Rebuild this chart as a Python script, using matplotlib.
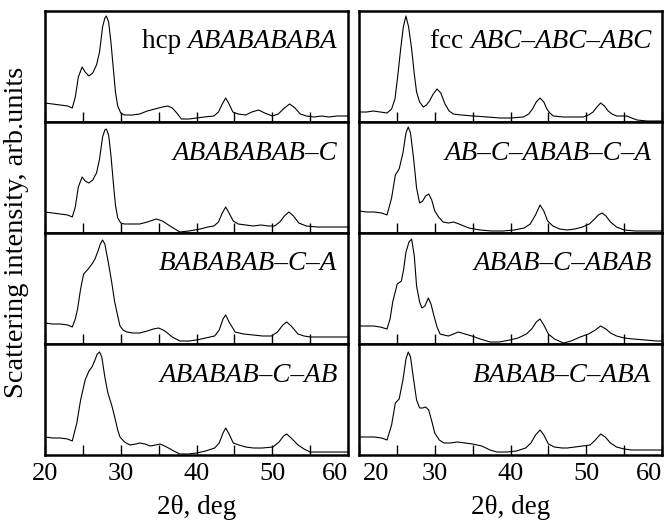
import matplotlib
matplotlib.use("Agg")
import matplotlib.pyplot as plt
from matplotlib.transforms import ScaledTranslation

plt.rcParams["font.family"] = ["Liberation Serif", "DejaVu Serif"]

# -----------------------------
# DATA (intensity, arb. units, 0..111 per panel)
# -----------------------------
hcp_x = [20, 21, 22, 23, 23.6, 24.0, 24.4, 24.9, 25.3, 25.8, 26.3, 26.8, 27.2, 27.6, 27.9, 28.1,
         28.4, 28.7, 29.0, 29.3, 29.6, 30.0, 30.5, 31.5, 32.5, 33.5, 34.5, 35.5, 36.2, 36.8, 37.4,
         38.0, 39.0, 40.0, 41.0, 42.3, 42.9, 43.4, 43.85, 44.3, 44.8, 45.5, 46.5, 47.3, 48.2, 49.0,
         50.0, 50.8, 51.6, 52.3, 53.0, 53.7, 54.5, 55.5, 56.5, 57.5, 58.5, 59.3, 60]
hcp_y = [19, 18, 17, 16, 14, 25, 45, 55, 50, 46, 49, 57, 70, 95, 104, 106,
         100, 80, 55, 30, 16, 9, 7, 7, 8, 11, 13, 15, 16, 14, 9,
         3, 3, 4, 5, 6, 10, 18, 24, 18, 10, 8, 7, 10, 12, 9,
         6, 8, 14, 18, 14, 8, 6, 5, 6, 5, 6, 6, 6]

l2_x = [20, 21, 22, 23, 23.6, 24.0, 24.4, 24.9, 25.3, 25.8, 26.3, 26.8, 27.2, 27.6, 27.9, 28.1,
        28.4, 28.7, 29.0, 29.3, 29.6, 30.0, 30.5, 31.5, 32.5, 33.5, 34.7, 35.5, 36.5, 37.8,
        39.0, 40.5, 41.5, 42.3, 42.9, 43.4, 43.85, 44.3, 44.85, 45.5, 46.5, 47.5, 48.5, 49.5,
        50.3, 51.0, 51.6, 52.2, 52.8, 53.5, 54.5, 55.9, 57.5, 59.0, 60]
l2_y = [21, 20, 19, 18, 16, 26, 46, 56, 52, 50, 53, 60, 74, 96, 103, 104,
        98, 78, 52, 28, 15, 10, 9, 9, 9, 11, 14, 12, 7, 1,
        2, 4, 6, 7, 11, 20, 26, 20, 12, 9, 8, 7, 8, 7,
        7, 11, 17, 21, 17, 10, 7, 6, 6, 6, 6]

l3_x = [20, 21, 22, 23, 23.6, 24.0, 24.3, 24.7, 25.1, 25.7, 26.2, 26.6, 27.0, 27.3, 27.6, 27.9,
        28.35, 28.8, 29.2, 29.6, 29.9, 30.3, 30.8, 31.6, 32.5, 33.5, 34.3, 35.0, 35.6, 36.0,
        36.8, 37.8, 39.0, 40.0, 41.2, 42.4, 43.0, 43.5, 43.85, 44.3, 45.1, 46.2, 47.5, 48.7,
        49.9, 50.7, 51.4, 51.9, 52.5, 53.4, 54.2, 55.0, 56.5, 58.0, 59.0, 60]
l3_y = [21, 20, 20, 19, 17, 25, 35, 55, 70, 75, 80, 85, 93, 100, 104, 100,
        82, 62, 42, 28, 18, 14, 12, 11, 11, 13, 15, 16, 14, 12,
        7, 3, 3, 4, 6, 8, 14, 25, 29, 22, 12, 10, 9, 8,
        8, 12, 19, 22, 18, 10, 8, 7, 7, 7, 7, 7]

l4_x = [20, 21, 22, 23, 23.6, 24.2, 24.7, 25.3, 25.8, 26.2, 26.6, 26.9, 27.2, 27.5, 27.9, 28.3,
        28.8, 29.2, 29.6, 29.9, 30.5, 31.2, 32.0, 32.5, 33.2, 33.9, 34.6, 35.2, 35.8, 36.3,
        37.0, 37.8, 39.0, 40.0, 41.2, 42.4, 43.0, 43.5, 43.85, 44.3, 44.85, 45.6, 46.5, 47.5,
        48.7, 50.1, 50.9, 51.5, 51.9, 52.5, 53.4, 54.2, 55.0, 56.5, 58.0, 59.0, 60]
l4_y = [18, 17, 17, 16, 14, 32, 55, 75, 84, 88, 95, 101, 103, 98, 78, 62,
        50, 38, 25, 18, 13, 10, 11, 12, 11, 9, 10, 11, 9, 7,
        4, 1, 1, 2, 4, 7, 12, 22, 27, 21, 12, 10, 8, 7,
        7, 8, 13, 19, 21, 17, 10, 6, 3, 3, 3, 3, 3]

fcc_x = [20, 21, 21.9, 22.8, 23.7, 24.3, 24.75, 25.1, 25.5, 25.85, 26.2, 26.55, 26.95, 27.3,
         27.6, 28.0, 28.5, 28.9, 29.3, 29.8, 30.3, 30.8, 31.35, 31.9, 32.45, 33.5, 35.1, 37.0,
         38.6, 40.0, 41.7, 42.4, 42.9, 43.4, 43.9, 44.4, 44.8, 45.2, 45.65, 47.0, 48.5, 49.6,
         50.3, 50.9, 51.4, 51.9, 52.4, 52.9, 53.4, 54.0, 55.35, 56.0, 56.7, 58.0, 59.8, 60]
fcc_y = [10, 10, 11, 10, 9, 13, 23, 45, 73, 95, 106, 95, 73, 48,
         30, 20, 15, 17, 21, 28, 33, 29, 18, 11, 8, 7, 6, 5,
         4, 4, 5, 8, 13, 20, 24, 20, 13, 9, 6, 5, 5, 5,
         7, 10, 15, 19, 16, 11, 8, 6, 6, 4, 2, 1, 1, 1]

r2_x = [20, 21, 22, 23, 23.7, 24.3, 24.8, 25.3, 25.8, 26.2, 26.5, 26.8, 27.2, 27.6, 28.0,
        28.4, 28.8, 29.2, 29.6, 30.0, 30.5, 31.1, 31.8, 32.5, 33.2, 34.5, 36.0, 37.5, 39.0,
        40.5, 41.8, 42.6, 43.3, 43.9, 44.4, 44.9, 45.6, 46.5, 47.5, 48.5, 49.5, 50.4, 51.1,
        51.6, 52.1, 52.6, 53.2, 54.0, 55.0, 56.5, 58.0, 60]
r2_y = [22, 21, 21, 20, 18, 35, 58, 64, 80, 100, 106, 100, 75, 45, 30,
        32, 37, 39, 33, 22, 16, 11, 10, 11, 9, 5, 3, 2, 2,
        3, 5, 9, 18, 28, 22, 12, 7, 4, 3, 4, 6, 9, 14,
        18, 20, 17, 11, 6, 3, 2, 2, 2]

r3_x = [20, 21, 21.9, 22.8, 23.7, 24.1, 24.45, 25.05, 25.6, 25.9, 26.2, 26.6, 26.95, 27.3,
        27.6, 28.0, 28.3, 28.7, 29.15, 29.5, 29.9, 30.3, 30.7, 31.2, 31.8, 32.5, 33.1, 34.0,
        34.9, 36.0, 37.3, 38.5, 39.9, 41.0, 42.1, 42.8, 43.4, 43.9, 44.4, 45.0, 45.8, 47.0,
        48.0, 49.2, 50.3, 51.2, 51.9, 52.6, 53.2, 54.0, 55.0, 56.2, 57.8, 59.3, 60]
r3_y = [18, 18, 18, 17, 15, 25, 42, 60, 63, 75, 92, 102, 105, 88,
        58, 42, 36, 38, 46, 40, 28, 17, 10, 9, 8, 10, 12, 10,
        8, 5, 2, 2, 4, 6, 10, 15, 22, 25, 19, 10, 5, 1,
        3, 7, 10, 14, 18, 15, 11, 8, 6, 5, 4, 3, 3]

r4_x = [20, 21, 22, 23, 23.7, 24.3, 24.8, 25.3, 25.8, 26.2, 26.5, 26.8, 27.2, 27.6, 28.0,
        28.4, 28.8, 29.2, 29.6, 30.0, 30.6, 31.2, 32.0, 33.0, 34.0, 35.0, 36.2, 37.3, 38.2,
        39.5, 40.8, 42.0, 42.7, 43.3, 43.9, 44.4, 45.0, 45.8, 46.8, 47.5, 48.5, 49.5, 50.5,
        51.2, 51.9, 52.5, 53.2, 54.0, 55.0, 56.0, 57.5, 59.0, 60]
r4_y = [18, 18, 18, 17, 15, 30, 52, 56, 75, 96, 103, 98, 76, 55, 47,
        47, 48, 45, 34, 22, 15, 12, 12, 13, 12, 11, 9, 5, 3,
        3, 4, 7, 12, 20, 25, 20, 11, 8, 7, 7, 8, 9, 10,
        15, 21, 18, 12, 8, 6, 5, 5, 5, 5]

left_labels = [("hcp ", "ABABABABA"), ("", "ABABABAB\u2013C"),
               ("", "BABABAB\u2013C\u2013A"), ("", "ABABAB\u2013C\u2013AB")]
right_labels = [("fcc ", "ABC\u2013ABC\u2013ABC"), ("", "AB\u2013C\u2013ABAB\u2013C\u2013A"),
                ("", "ABAB\u2013C\u2013ABAB"), ("", "BABAB\u2013C\u2013ABA")]

left_series = [(hcp_x, hcp_y), (l2_x, l2_y), (l3_x, l3_y), (l4_x, l4_y)]
right_series = [(fcc_x, fcc_y), (r2_x, r2_y), (r3_x, r3_y), (r4_x, r4_y)]

xticks_major = [20, 30, 40, 50, 60]
xtick_labels = ["20", "30", "40", "50", "60"]
xticks_minor = [25, 35, 45, 55]


# -----------------------------
# PLOTTING
# -----------------------------
def draw_panel(fig, ax, xs, ys, label, bottom, col):
    ax.plot(xs, ys, color="black", lw=0.8)
    ax.set_xlim(20, 60)
    ax.set_ylim(0, 111)
    ax.set_yticks([])
    ax.set_xticks(xticks_major)
    ax.set_xticklabels(xtick_labels)
    ax.set_xticks(xticks_minor, minor=True)
    ax.tick_params(axis="x", which="both", direction="in", length=7, width=1,
                   top=False, labelbottom=bottom, labelsize=19, pad=6)
    for sp in ax.spines.values():
        sp.set_linewidth(1.8)
    if bottom:
        labs = ax.get_xticklabels()
        labs[-1].set_horizontalalignment("right")
        if col == 1:
            labs[0].set_horizontalalignment("left")
            labs[0].set_transform(labs[0].get_transform()
                                  + ScaledTranslation(4 / 100, 0, fig.dpi_scale_trans))
    prefix, seq = label
    t = ax.text(58.6, 80, seq, ha="right", va="center", fontsize=19.5, style="italic")
    if prefix:
        ax.annotate(prefix, xy=(0, 0), xycoords=t, ha="right", va="bottom", fontsize=19.5)


fig = plt.figure(figsize=(6.68, 5.23), dpi=100)
W, H = 668, 523
col_left = [45, 359]
col_w = 303
top, row_h = 11, 111

for ci, (series, labels) in enumerate([(left_series, left_labels), (right_series, right_labels)]):
    for ri in range(4):
        y0 = H - (top + (ri + 1) * row_h)
        ax = fig.add_axes([col_left[ci] / W, y0 / H, col_w / W, row_h / H])
        xs, ys = series[ri]
        draw_panel(fig, ax, xs, ys, labels[ri], bottom=(ri == 3), col=ci)
    fig.text((col_left[ci] + col_w / 2) / W, 1 - 507 / H, "2\u03b8, deg",
             ha="center", va="center", fontsize=19.5)

fig.text(17 / W, 1 - 232 / H, "Scattering intensity, arb.units", rotation=90,
         ha="center", va="center", fontsize=20.5)

fig.savefig("out.png", dpi=100)
